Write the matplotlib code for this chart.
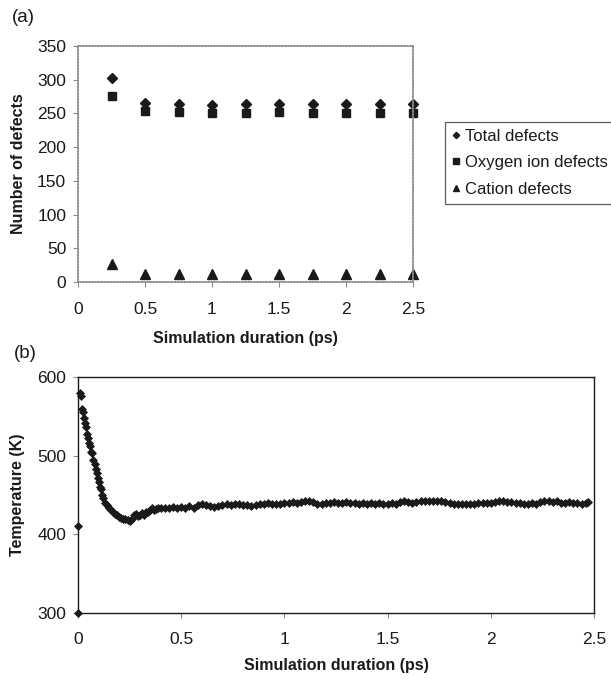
import matplotlib
matplotlib.use("Agg")
import matplotlib.pyplot as plt

plt.rcParams["font.family"] = ["Liberation Sans", "DejaVu Sans"]

# ---- panel (a): defect counts -------------------------------------------------
duration_a = [0.25, 0.5, 0.75, 1.0, 1.25, 1.5, 1.75, 2.0, 2.25, 2.5]
total_defects = [303, 266, 264, 263, 264, 264, 264, 264, 264, 264]
oxygen_defects = [276, 254, 252, 250, 250, 252, 250, 250, 250, 250]
cation_defects = [27, 12, 12, 12, 12, 12, 12, 12, 12, 12]

# ---- panel (b): temperature trace ---------------------------------------------
duration_b = [
    0.0, 0.002, 0.01, 0.015, 0.02, 0.025, 0.03, 0.035, 0.04, 0.045, 0.05,
    0.055, 0.06, 0.065, 0.07, 0.075, 0.08, 0.085, 0.09, 0.095, 0.10,
    0.105, 0.11, 0.115, 0.12, 0.13, 0.14, 0.15, 0.16, 0.17, 0.18, 0.19,
    0.20, 0.21, 0.22, 0.23, 0.24, 0.25, 0.26, 0.27, 0.28, 0.29, 0.30,
    0.31, 0.32, 0.33, 0.34, 0.35, 0.36, 0.37, 0.38, 0.39, 0.40,
    0.42, 0.44, 0.46, 0.48, 0.50, 0.52, 0.54, 0.56, 0.58, 0.60,
    0.62, 0.64, 0.66, 0.68, 0.70, 0.72, 0.74, 0.76, 0.78, 0.80,
    0.82, 0.84, 0.86, 0.88, 0.90, 0.92, 0.94, 0.96, 0.98, 1.00,
    1.02, 1.04, 1.06, 1.08, 1.10, 1.12, 1.14, 1.16, 1.18, 1.20,
    1.22, 1.24, 1.26, 1.28, 1.30, 1.32, 1.34, 1.36, 1.38, 1.40,
    1.42, 1.44, 1.46, 1.48, 1.50, 1.52, 1.54, 1.56, 1.58, 1.60,
    1.62, 1.64, 1.66, 1.68, 1.70, 1.72, 1.74, 1.76, 1.78, 1.80,
    1.82, 1.84, 1.86, 1.88, 1.90, 1.92, 1.94, 1.96, 1.98, 2.00,
    2.02, 2.04, 2.06, 2.08, 2.10, 2.12, 2.14, 2.16, 2.18, 2.20,
    2.22, 2.24, 2.26, 2.28, 2.30, 2.32, 2.34, 2.36, 2.38, 2.40,
    2.42, 2.44, 2.46, 2.47,
]
temperature = [
    300, 410, 580, 576, 559, 556, 548, 541, 536, 527, 522,
    516, 512, 505, 503, 494, 490, 483, 478, 471, 466,
    460, 457, 450, 446, 440, 437, 434, 431, 428, 426, 424,
    422, 421, 420, 419, 418, 417, 420, 424, 426, 423, 425,
    427, 424, 429, 428, 431, 433, 431, 432, 434, 433,
    434, 433, 435, 434, 435, 434, 436, 433, 437, 438,
    437, 436, 435, 436, 437, 439, 437, 438, 438, 437,
    437, 436, 437, 438, 439, 440, 439, 438, 439, 440,
    440, 441, 440, 441, 442, 442, 441, 439, 439, 440,
    440, 441, 440, 440, 441, 440, 440, 439, 440, 439,
    440, 439, 440, 438, 439, 440, 439, 441, 442, 441,
    440, 441, 442, 443, 443, 442, 443, 442, 441, 440,
    439, 439, 439, 439, 439, 439, 440, 440, 440, 440,
    441, 443, 442, 441, 441, 440, 440, 439, 439, 440,
    439, 441, 442, 442, 441, 442, 440, 440, 441, 440,
    440, 439, 440, 441,
]

W, H = 611, 679
fig = plt.figure(figsize=(W / 100, H / 100), dpi=100)
INK = "#1a1a1a"
TICK_FS = 12.5
LABEL_FS = 11.5


def fx(px):
    return px / W


def fy(py):
    return 1 - py / H


# ---------------- (a) ----------------
ax_a = fig.add_axes([fx(78), fy(282), fx(413) - fx(78), fy(46) - fy(282)])
ax_a.plot(duration_a, total_defects, "D", color=INK, ms=4.6, clip_on=False,
          label="Total defects")
ax_a.plot(duration_a, oxygen_defects, "s", color=INK, ms=6.2, clip_on=False,
          label="Oxygen ion defects")
ax_a.plot(duration_a, cation_defects, "^", color=INK, ms=7, clip_on=False,
          label="Cation defects")
ax_a.set_xlim(0, 2.5)
ax_a.set_ylim(0, 350)
ax_a.set_xticks([0, 0.5, 1, 1.5, 2, 2.5])
ax_a.set_xticklabels(["0", "0.5", "1", "1.5", "2", "2.5"])
ax_a.set_yticks(range(0, 351, 50))
for s in ax_a.spines.values():
    s.set_color("#8a8a8a")
    s.set_linestyle((0, (1.2, 0.8)))
    s.set_linewidth(1.1)
ax_a.tick_params(direction="out", length=3.5, width=0.8, color="#8a8a8a",
                 labelsize=TICK_FS, labelcolor=INK, pad=5)
ax_a.tick_params(axis="x", pad=11)
ax_a.set_xlabel("Simulation duration (ps)", fontsize=LABEL_FS,
                fontweight="bold", color=INK, labelpad=10)
ax_a.set_ylabel("Number of defects", fontsize=LABEL_FS, fontweight="bold",
                color=INK, labelpad=8)

leg = fig.legend(loc="upper left", bbox_to_anchor=(fx(445), fy(122)),
                 frameon=True, fancybox=False, fontsize=12, handlelength=0.5,
                 handletextpad=0.3, borderpad=0.4, labelspacing=0.7,
                 markerscale=0.7, borderaxespad=0)
leg.get_frame().set_edgecolor("#333333")
leg.get_frame().set_linewidth(0.9)
for t in leg.get_texts():
    t.set_color(INK)

fig.text(fx(12), fy(18), "(a)", fontsize=13.5, color=INK, va="center", ha="left")

# ---------------- (b) ----------------
ax_b = fig.add_axes([fx(78), fy(613), fx(594) - fx(78), fy(377) - fy(613)])
ax_b.plot(duration_b, temperature, "D", color=INK, ms=4.2, clip_on=False,
          markeredgewidth=0.5)
ax_b.set_xlim(0, 2.5)
ax_b.set_ylim(300, 600)
ax_b.set_xticks([0, 0.5, 1, 1.5, 2, 2.5])
ax_b.set_xticklabels(["0", "0.5", "1", "1.5", "2", "2.5"])
ax_b.set_yticks([300, 400, 500, 600])
for s in ax_b.spines.values():
    s.set_color(INK)
    s.set_linewidth(1.0)
ax_b.tick_params(direction="out", length=3.5, width=0.8, color="#8a8a8a",
                 labelsize=TICK_FS, labelcolor=INK, pad=5)
ax_b.tick_params(axis="x", pad=10)
ax_b.set_xlabel("Simulation duration (ps)", fontsize=LABEL_FS,
                fontweight="bold", color=INK, labelpad=8)
ax_b.set_ylabel("Temperature (K)", fontsize=LABEL_FS, fontweight="bold",
                color=INK, labelpad=9)

fig.text(fx(14), fy(354), "(b)", fontsize=13.5, color=INK, va="center", ha="left")

fig.savefig("out.png", dpi=100)
